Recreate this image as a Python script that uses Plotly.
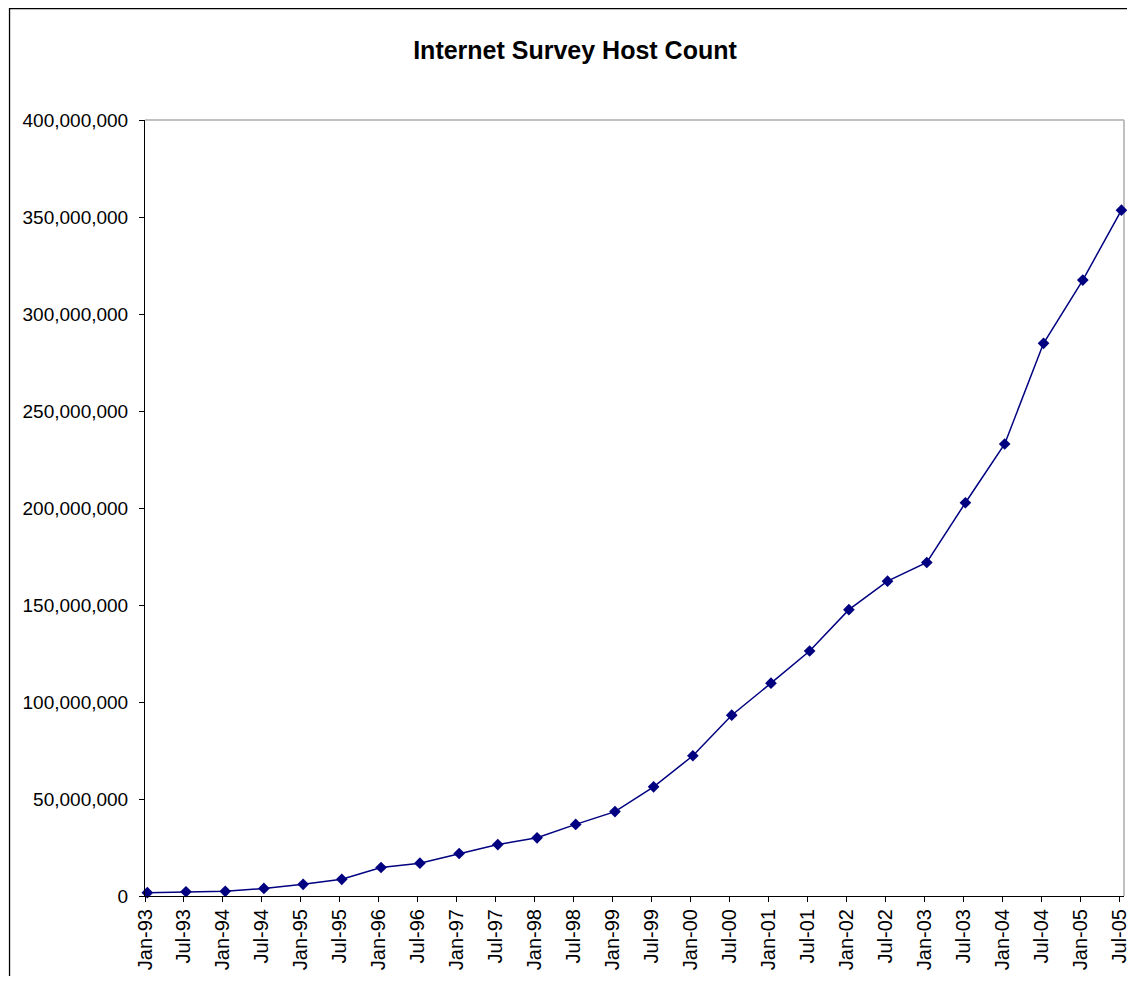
import plotly.graph_objects as go

# Survey dates (points sit slightly after the month start in the reference)
survey_dates = [
    "1993-01-12", "1993-07-12", "1994-01-12", "1994-07-12", "1995-01-12", "1995-07-12",
    "1996-01-12", "1996-07-12", "1997-01-12", "1997-07-12", "1998-01-12", "1998-07-12",
    "1999-01-12", "1999-07-12", "2000-01-12", "2000-07-12", "2001-01-12", "2001-07-12",
    "2002-01-12", "2002-07-12", "2003-01-12", "2003-07-12", "2004-01-12", "2004-07-12",
    "2005-01-12", "2005-07-12",
]
host_counts = [
    1_700_000, 2_200_000, 2_400_000, 3_900_000, 6_000_000, 8_600_000,
    14_700_000, 16_900_000, 21_900_000, 26_500_000, 30_000_000, 36_900_000,
    43_500_000, 56_300_000, 72_300_000, 93_200_000, 109_700_000, 126_300_000,
    147_600_000, 162_300_000, 171_900_000, 202_700_000, 233_000_000, 284_900_000,
    317_500_000, 353_500_000,
]
tick_dates = [
    "1993-01-01", "1993-07-01", "1994-01-01", "1994-07-01", "1995-01-01", "1995-07-01",
    "1996-01-01", "1996-07-01", "1997-01-01", "1997-07-01", "1998-01-01", "1998-07-01",
    "1999-01-01", "1999-07-01", "2000-01-01", "2000-07-01", "2001-01-01", "2001-07-01",
    "2002-01-01", "2002-07-01", "2003-01-01", "2003-07-01", "2004-01-01", "2004-07-01",
    "2005-01-01", "2005-07-01",
]
tick_labels = [
    "Jan-93", "Jul-93", "Jan-94", "Jul-94", "Jan-95", "Jul-95", "Jan-96", "Jul-96",
    "Jan-97", "Jul-97", "Jan-98", "Jul-98", "Jan-99", "Jul-99", "Jan-00", "Jul-00",
    "Jan-01", "Jul-01", "Jan-02", "Jul-02", "Jan-03", "Jul-03", "Jan-04", "Jul-04",
    "Jan-05", "Jul-05",
]
y_ticks = [0, 50_000_000, 100_000_000, 150_000_000, 200_000_000,
           250_000_000, 300_000_000, 350_000_000, 400_000_000]

FONT = "Liberation Sans, Arial, sans-serif"
NAVY = "#000080"

fig = go.Figure()
fig.add_trace(go.Scatter(
    x=survey_dates, y=host_counts, mode="lines+markers",
    line=dict(color=NAVY, width=1.5),
    marker=dict(symbol="diamond", size=9, color=NAVY),
    showlegend=False, cliponaxis=False,
))

# the page body adds an 8px margin, so the figure is drawn at (8, 8)
W, H = 1127, 968
L, R, T, B = 137, 5, 112, 80
pw, ph = W - L - R, H - T - B

def fx(p):
    return (p - L) / pw

def fy(p):
    return (H - B - p) / ph

shapes = [
    # chart-area border (extends beyond the visible window right and bottom)
    dict(type="rect", xref="paper", yref="paper",
         x0=fx(0.7), x1=fx(1250), y0=fy(1100), y1=fy(0.7),
         line=dict(color="black", width=1.3), layer="below"),
    # plot-area top and right border in gray
    dict(type="line", xref="paper", yref="paper", x0=0, x1=1, y0=1, y1=1,
         line=dict(color="#C0C0C0", width=2), layer="below"),
    dict(type="line", xref="paper", yref="paper", x0=1, x1=1, y0=0, y1=1,
         line=dict(color="#C0C0C0", width=2), layer="below"),
]

fig.update_layout(
    width=W, height=H, autosize=False,
    margin=dict(l=L, r=R, t=T, b=B),
    paper_bgcolor="white", plot_bgcolor="white",
    font=dict(family=FONT, color="black"),
    title=dict(text="<b>Internet Survey Host Count</b>",
               font=dict(family=FONT, size=25, color="black"),
               x=567 / W, xref="container", xanchor="center",
               y=1 - 42 / H, yref="container", yanchor="middle"),
    shapes=shapes,
)

fig.update_xaxes(
    type="date", range=["1993-01-01", "2005-07-24"],
    tickmode="array", tickvals=tick_dates, ticktext=tick_labels,
    tickangle=-90, tickfont=dict(family=FONT, size=20, color="black"),
    showline=True, linecolor="black", linewidth=1,
    ticks="outside", ticklen=5, tickcolor="black", tickwidth=1,
    showgrid=False, zeroline=False, ticklabelstandoff=-1,
    ticklabeloverflow="allow",
)
fig.update_yaxes(
    range=[0, 400_000_000], tickmode="array", tickvals=y_ticks,
    tickformat=",d", tickfont=dict(family=FONT, size=19, color="black"),
    showline=True, linecolor="black", linewidth=1,
    ticks="outside", ticklen=5, tickcolor="black", tickwidth=1,
    showgrid=False, zeroline=False, ticklabelstandoff=7,
)

fig.write_html("out.html")
